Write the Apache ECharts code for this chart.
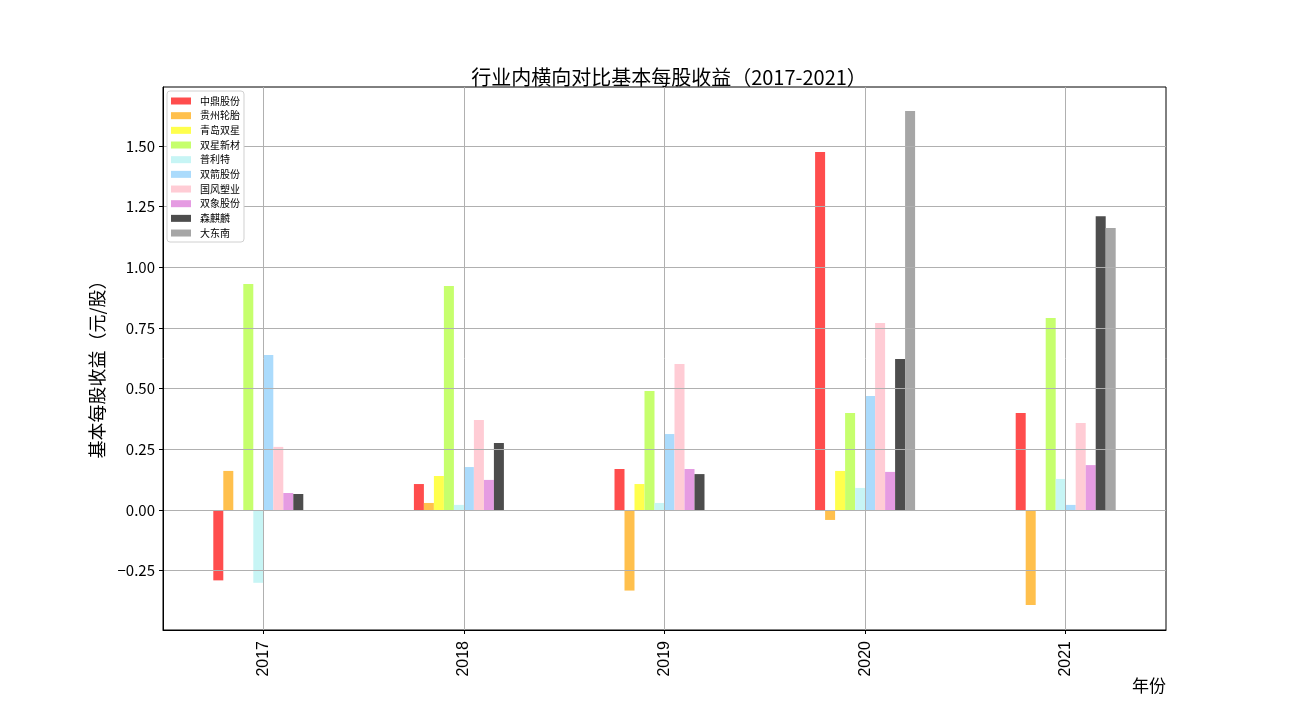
<!DOCTYPE html>
<html>
<head>
<meta charset="utf-8">
<script src="https://cdn.jsdelivr.net/npm/echarts@6/dist/echarts.min.js"></script>
<style>html,body{margin:0;padding:0;background:#fff;}#c{width:1296px;height:720px;}</style>
</head>
<body>
<div id="c"></div>
<script>
var years = ['2017', '2018', '2019', '2020', '2021'];
var companies = ['中鼎股份', '贵州轮胎', '青岛双星', '双星新材', '普利特', '双箭股份', '国风塑业', '双象股份', '森麒麟', '大东南'];
var zhongding = [-0.29, 0.107, 0.169, 1.475, 0.40];
var guizhou   = [0.161, 0.029, -0.332, -0.041, -0.391];
var qingdao   = [null, 0.14, 0.107, 0.161, null];
var shuangxingXC = [0.931, 0.923, 0.49, 0.40, 0.791];
var pulite    = [-0.30, 0.021, 0.029, 0.091, 0.128];
var shuangjian = [0.639, 0.177, 0.313, 0.47, 0.021];
var guofeng   = [0.26, 0.371, 0.602, 0.771, 0.358];
var shuangxiang = [0.07, 0.124, 0.169, 0.157, 0.185];
var senqilin  = [0.066, 0.276, 0.148, 0.622, 1.211];
var dadongnan = [null, null, null, 1.644, 1.162];
var yTicks = [-0.25, 0, 0.25, 0.5, 0.75, 1.0, 1.25, 1.5];

var seriesValues = [zhongding, guizhou, qingdao, shuangxingXC, pulite, shuangjian, guofeng, shuangxiang, senqilin, dadongnan];
var colors = ['#FF4D4D', '#FFC04D', '#FFFF4D', '#C6FF6D', '#C7F5F5', '#ABDBFC', '#FFCCD5', '#E59BE2', '#4D4D4D', '#A6A6A6'];

var chart = echarts.init(document.getElementById('c'), null, {renderer: 'canvas'});
var cjk = '"Noto Sans CJK SC", "Noto Sans", sans-serif';

var series = companies.map(function (name, i) {
  return {
    name: name,
    type: 'bar',
    data: seriesValues[i],
    barWidth: 10,
    barGap: '0%',
    itemStyle: {color: colors[i]},
    z: 2
  };
});

chart.setOption({
  animation: false,
  color: colors,
  title: {
    text: '行业内横向对比基本每股收益（2017-2021）',
    left: 664,
    top: 62,
    textAlign: 'center',
    textStyle: {fontFamily: cjk, fontSize: 20, fontWeight: 'normal', color: '#000'}
  },
  legend: {
    data: companies,
    orient: 'vertical',
    left: 167,
    top: 91,
    padding: [5, 4, 4, 4],
    itemWidth: 20,
    itemHeight: 7,
    itemGap: 4.67,
    icon: 'rect',
    backgroundColor: '#fff',
    borderColor: '#d0d0d0',
    borderWidth: 1,
    borderRadius: 3,
    textStyle: {fontFamily: cjk, fontSize: 10, lineHeight: 10, color: '#000', padding: [0, 0, 0, 4]},
    z: 20
  },
  grid: {
    left: 163, right: 130, top: 87, bottom: 90,
    show: true, borderColor: '#000', borderWidth: 1, backgroundColor: 'transparent'
  },
  xAxis: {
    type: 'category',
    data: years,
    z: 5,
    axisLine: {show: true, onZero: false, lineStyle: {color: '#000', width: 1}},
    axisTick: {show: true, alignWithLabel: true, inside: false, length: 4, lineStyle: {color: '#000'}},
    splitLine: {show: true, alignWithLabel: true, lineStyle: {color: '#b0b0b0', width: 1}},
    axisLabel: {rotate: 90, margin: 11, fontFamily: '"Liberation Sans", Arial, sans-serif', fontSize: 16, color: '#000'}
  },
  yAxis: {
    type: 'value',
    min: -0.4945,
    max: 1.7431,
    z: 5,
    axisLine: {show: true, lineStyle: {color: '#000', width: 1}},
    axisTick: {show: true, inside: false, length: 4, lineStyle: {color: '#000'}, customValues: yTicks},
    splitLine: {show: true, lineStyle: {color: '#b0b0b0', width: 1}},
    axisLabel: {
      customValues: yTicks,
      margin: 8,
      fontFamily: cjk, fontSize: 15, color: '#000',
      formatter: function (v) { var s = Math.abs(v).toFixed(2); return v < 0 ? '\u2212' + s : s; }
    }
  },
  graphic: [
    {type: 'text', x: 97, y: 365, rotation: Math.PI / 2, z: 10,
     style: {text: '基本每股收益（元/股）', font: '18px ' + cjk, fill: '#000', textAlign: 'center', textVerticalAlign: 'middle'}},
    {type: 'text', x: 1166, y: 686, z: 10,
     style: {text: '年份', font: '17px ' + cjk, fill: '#000', textAlign: 'right', textVerticalAlign: 'middle'}}
  ],
  series: series
});
</script>
</body>
</html>
